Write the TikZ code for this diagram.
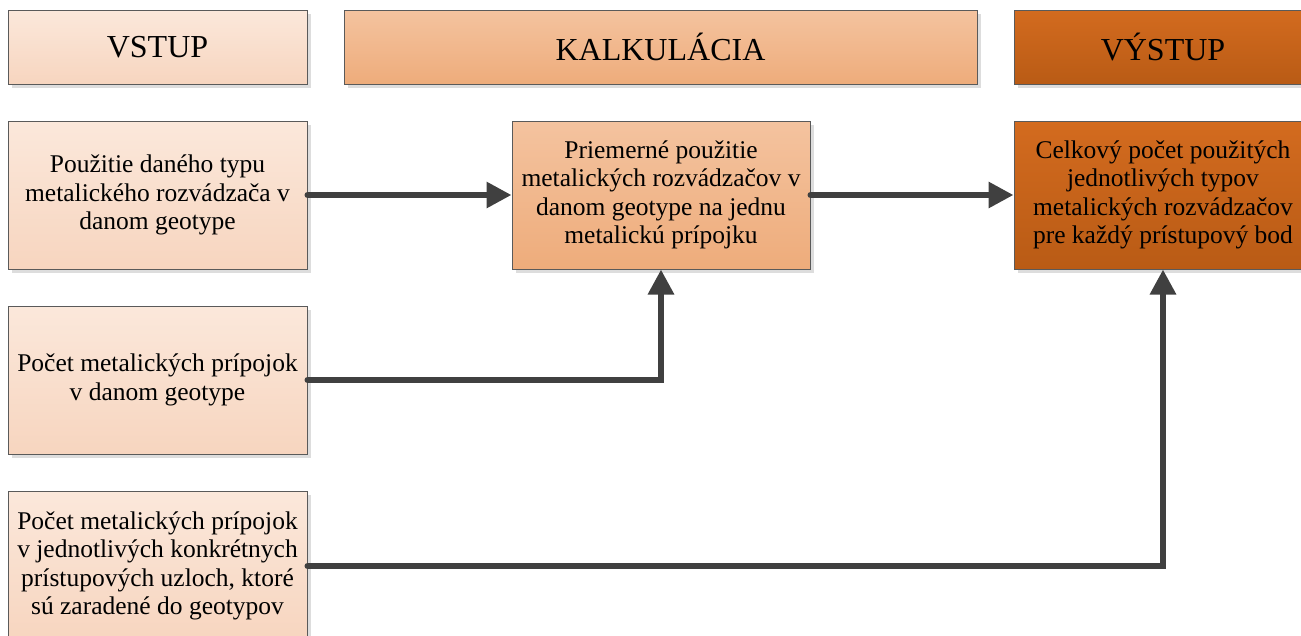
\documentclass[tikz,border=0pt]{standalone}
\usepackage{fontspec}
\setmainfont{Liberation Serif}
\usetikzlibrary{arrows.meta, shadows}

\definecolor{inTop}{HTML}{FBE8DB}
\definecolor{inBot}{HTML}{F7D5BF}
\definecolor{calcTop}{HTML}{F4C39F}
\definecolor{calcBot}{HTML}{EEAC7B}
\definecolor{outTop}{HTML}{D36B1F}
\definecolor{outBot}{HTML}{B95B15}
\definecolor{boxline}{HTML}{5A5A5A}
\definecolor{arrowgray}{HTML}{404040}
\definecolor{shadowgray}{HTML}{DDDDDD}

\begin{document}
\begin{tikzpicture}[x=1pt, y=-1pt,
    box/.style={draw=boxline, line width=1pt, align=center, inner sep=0pt,
                drop shadow={shadow xshift=4pt, shadow yshift=-4pt, fill=shadowgray, opacity=1}},
    head/.style={box, minimum height=74pt, font=\fontsize{32}{38}\selectfont},
    txt/.style={box, minimum height=148pt, font=\fontsize{25.5}{28.5}\selectfont},
    incol/.style={top color=inTop, bottom color=inBot},
    calccol/.style={top color=calcTop, bottom color=calcBot},
    outcol/.style={top color=outTop, bottom color=outBot},
    conn/.style={draw=arrowgray, line width=6pt, line cap=round,
                 -{Triangle[length=25pt, width=25pt]}}]
  \useasboundingbox (0,0) rectangle (1301,635);

  % headers
  \node[head, incol, minimum width=299pt] (vstup) at (157.5,47) {VSTUP};
  \node[head, calccol, minimum width=633pt] (kalk) at (660.5,47) {KALKULÁCIA};
  \node[head, outcol, minimum width=298pt] (vystup) at (1163,47) {VÝSTUP};

  % inputs
  \node[txt, incol, minimum width=299pt] (in1) at (157.5,195)
    {Použitie daného typu\\metalického rozvádzača v\\danom geotype};
  \node[txt, incol, minimum width=299pt] (in2) at (157.5,380)
    {Počet metalických prípojok\\v danom geotype};
  \node[txt, incol, minimum width=299pt, minimum height=150pt] (in3) at (157.5,566)
    {Počet metalických prípojok\\v jednotlivých konkrétnych\\prístupových uzloch, ktoré\\sú zaradené do geotypov};

  % calculation and output
  \node[txt, calccol, minimum width=298pt] (calc) at (661,195)
    {Priemerné použitie\\metalických rozvádzačov v\\danom geotype na jednu\\metalickú prípojku};
  \node[txt, outcol, minimum width=298pt] (out) at (1163,195)
    {Celkový počet použitých\\jednotlivých typov\\metalických rozvádzačov\\pre každý prístupový bod};

  % connectors
  \draw[conn] (in1.east) -- (calc.west);
  \draw[conn] (calc.east) -- (out.west);
  \draw[conn] (in2.east) -| (calc.south);
  \draw[conn] (in3.east) -| (out.south);
\end{tikzpicture}
\end{document}
